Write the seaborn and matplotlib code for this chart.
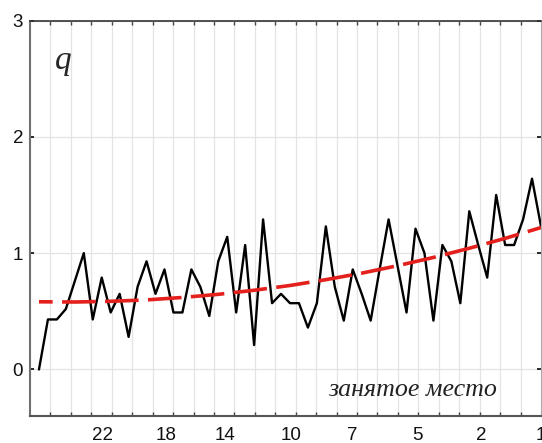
# q by place taken - line chart with trend
import numpy as np
import pandas as pd
import matplotlib.pyplot as plt
import seaborn as sns
from matplotlib.ticker import FixedLocator

# ==========================================
# Data
# ==========================================

q_values = [
    0.00, 0.43, 0.43, 0.52, 0.76, 1.00, 0.43, 0.79, 0.49, 0.65,
    0.28, 0.71, 0.93, 0.65, 0.86, 0.49, 0.49, 0.86, 0.71, 0.46,
    0.93, 1.14, 0.49, 1.07, 0.21, 1.29, 0.57, 0.65, 0.57, 0.57,
    0.36, 0.57, 1.23, 0.71, 0.42, 0.86, 0.65, 0.42, 0.86, 1.29,
    0.89, 0.49, 1.21, 1.00, 0.42, 1.07, 0.93, 0.57, 1.36, 1.07,
    0.79, 1.50, 1.07, 1.07, 1.29, 1.64, 1.23,
]

trend_idx = [0, 4, 8, 12, 16, 20, 24, 28, 32, 36, 40, 44, 48, 52, 56]
trend_values = [0.582, 0.580, 0.586, 0.598, 0.619, 0.646, 0.681, 0.722,
                0.772, 0.828, 0.892, 0.963, 1.042, 1.127, 1.220]

place_labels = ["22", "18", "14", "10", "7", "5", "2", "1"]
place_pos = [7.1, 14.2, 20.7, 28.1, 34.9, 42.2, 49.3, 56.0]

y_ticks = [0, 1, 2, 3]

df = pd.DataFrame({"idx": np.arange(len(q_values)), "q": q_values})
trend = pd.DataFrame({"idx": trend_idx, "q": trend_values})

# ==========================================
# Plot
# ==========================================

sns.set_theme(style="white")
plt.rcParams["font.family"] = ["Liberation Sans", "DejaVu Sans"]

fig = plt.figure(figsize=(5.42, 4.43), dpi=100)
ax = fig.add_axes([30 / 542, 1 - 416 / 443, 511 / 542, 395.5 / 443])

# grid columns (25 equal intervals across the axis)
x_grid = [-1 + 57 / 25 * k for k in range(1, 25)]
ax.xaxis.set_minor_locator(FixedLocator(x_grid))
ax.grid(which="minor", axis="x", color="#e4e4e4", linewidth=0.9)
ax.grid(which="major", axis="y", color="#e4e4e4", linewidth=0.9)
ax.grid(which="major", axis="x", visible=False)
ax.set_axisbelow(True)

sns.lineplot(data=df, x="idx", y="q", color="black", linewidth=1.7, ax=ax)
sns.lineplot(data=trend, x="idx", y="q", color="#e4201c", linewidth=2.6,
             linestyle=(5.5, (9.3, 2.6)), ax=ax)

ax.set_xlim(-1, 56)
ax.set_ylim(-0.4, 3)
ax.set_xticks(place_pos)
ax.set_xticklabels(place_labels)
ax.set_yticks(y_ticks)
ax.set_xlabel("")
ax.set_ylabel("")

ax.tick_params(axis="x", which="major", length=0, pad=8, labelsize=13.5,
               colors="#111111")
ax.tick_params(axis="x", which="minor", direction="in", length=3,
               top=True, bottom=True, color="#444444")
ax.tick_params(axis="y", which="major", direction="in", length=3,
               left=True, right=True, pad=5, labelsize=13.5,
               colors="#111111")

for side, col, lw in [("left", "#707070", 1.5), ("bottom", "#555555", 1.5),
                      ("top", "#333333", 1.2), ("right", "#aaaaaa", 0.8)]:
    ax.spines[side].set_color(col)
    ax.spines[side].set_linewidth(lw)

ax.text(0.049, 0.877, "q", transform=ax.transAxes, fontsize=24,
        style="italic", family=["Liberation Serif", "DejaVu Serif"],
        ha="left", va="baseline")
ax.text(0.914, 0.05, "занятое место", transform=ax.transAxes, fontsize=18.7,
        style="italic", family=["Liberation Serif", "DejaVu Serif"],
        ha="right", va="baseline", color="#222222")

fig.savefig("out.png", dpi=100)
